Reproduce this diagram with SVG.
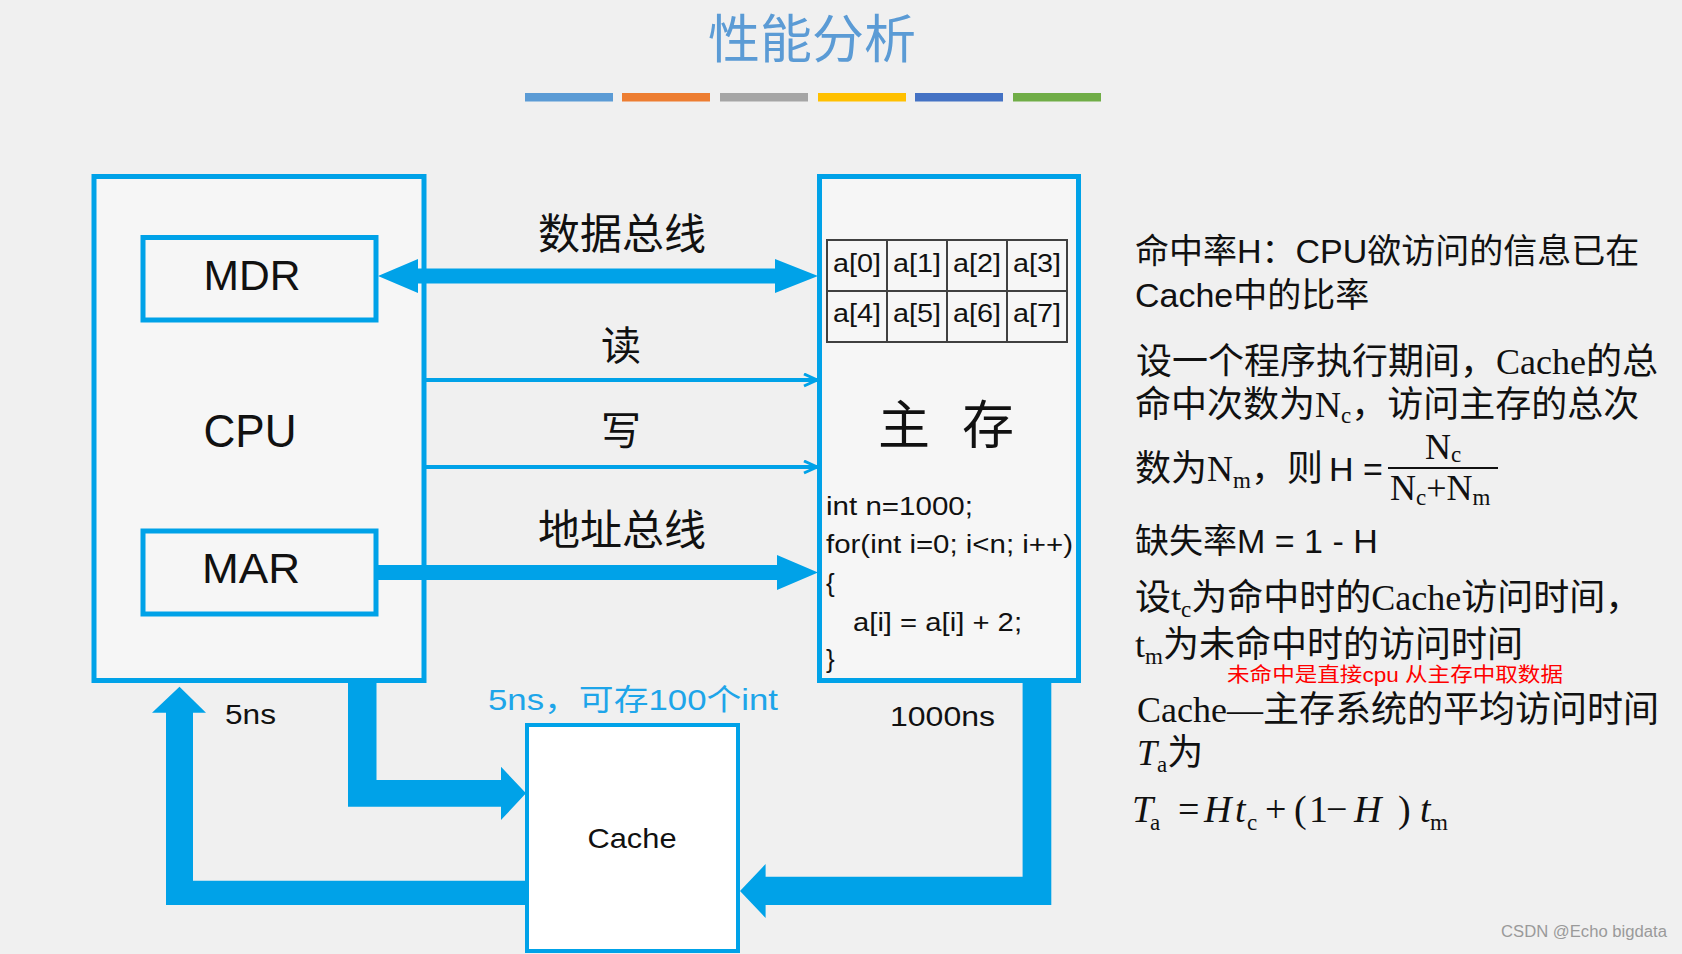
<svg xmlns="http://www.w3.org/2000/svg" width="1682" height="954" viewBox="0 0 1682 954">
<defs>
<style>
.bx{stroke:#00a2e8;stroke-width:5;fill:#f6f6f6}
.ar{fill:#00a2e8}
.thin{stroke:#00a2e8;stroke-width:4;fill:none}
.sans{font-family:"Liberation Sans","Noto Sans CJK SC",sans-serif}
.serif{font-family:"Liberation Serif","Noto Sans CJK SC",serif}
.cjk{font-family:"Noto Sans CJK SC",sans-serif}
.k{fill:#111}
.mid{text-anchor:middle}
.cell{font-family:"Liberation Sans",sans-serif;font-size:25px;fill:#111;text-anchor:middle}
.code{font-family:"Liberation Sans",sans-serif;font-size:26px;fill:#111}
.rs{font-family:"Liberation Sans","Noto Sans CJK SC",sans-serif;font-size:34px;fill:#111}
.rf{font-family:"Liberation Serif","Noto Sans CJK SC",serif;font-size:36px;fill:#111}
.it{font-family:"Liberation Serif",serif;font-style:italic;font-size:38px;fill:#111}
.up{font-family:"Liberation Serif",serif;font-size:38px;fill:#111}
.sub{font-family:"Liberation Serif",serif;font-size:23px;fill:#111}
</style>
<marker id="open" markerUnits="userSpaceOnUse" markerWidth="16" markerHeight="16" refX="14" refY="7" orient="auto">
<path d="M1,1 L14,7 L1,13" fill="none" stroke="#00a2e8" stroke-width="3"/>
</marker>
</defs>
<rect x="0" y="0" width="1682" height="954" fill="#f0f0f0"/>

<g id="title">
<text x="812" y="58" class="cjk mid" font-size="52" fill="#5b9bd5">性能分析</text>
<rect x="525" y="93" width="88" height="8.5" fill="#5b9bd5"/>
<rect x="622" y="93" width="88" height="8.5" fill="#ed7d31"/>
<rect x="720" y="93" width="88" height="8.5" fill="#a5a5a5"/>
<rect x="818" y="93" width="88" height="8.5" fill="#ffc000"/>
<rect x="915" y="93" width="88" height="8.5" fill="#4472c4"/>
<rect x="1013" y="93" width="88" height="8.5" fill="#70ad47"/>
</g>

<g id="cpu">
<rect class="bx" x="94" y="176.5" width="330" height="504"/>
<text x="250" y="447" class="sans k mid" font-size="46" textLength="93" lengthAdjust="spacingAndGlyphs">CPU</text>
</g>
<g id="mdr">
<rect class="bx" x="143" y="237.5" width="233" height="82.5"/>
<text x="252" y="290" class="sans k mid" font-size="42" textLength="97" lengthAdjust="spacingAndGlyphs">MDR</text>
</g>
<g id="mar">
<rect class="bx" x="143" y="531" width="233" height="83"/>
<text x="251" y="583" class="sans k mid" font-size="42" textLength="98" lengthAdjust="spacingAndGlyphs">MAR</text>
</g>

<g id="memory">
<rect class="bx" x="819.5" y="176.5" width="259" height="504"/>
<g stroke="#404040" stroke-width="2" fill="none">
<rect x="827" y="240" width="240" height="102"/>
<path d="M827,291 H1067 M887,240 V342 M947,240 V342 M1007,240 V342"/>
</g>
<text class="cell" x="857" y="272" textLength="48" lengthAdjust="spacingAndGlyphs">a[0]</text>
<text class="cell" x="917" y="272" textLength="48" lengthAdjust="spacingAndGlyphs">a[1]</text>
<text class="cell" x="977" y="272" textLength="48" lengthAdjust="spacingAndGlyphs">a[2]</text>
<text class="cell" x="1037" y="272" textLength="48" lengthAdjust="spacingAndGlyphs">a[3]</text>
<text class="cell" x="857" y="322" textLength="48" lengthAdjust="spacingAndGlyphs">a[4]</text>
<text class="cell" x="917" y="322" textLength="48" lengthAdjust="spacingAndGlyphs">a[5]</text>
<text class="cell" x="977" y="322" textLength="48" lengthAdjust="spacingAndGlyphs">a[6]</text>
<text class="cell" x="1037" y="322" textLength="48" lengthAdjust="spacingAndGlyphs">a[7]</text>
<text class="cjk k" font-size="52" y="444"><tspan x="878">主</tspan><tspan x="962">存</tspan></text>
<text class="code" x="826" y="515" textLength="147" lengthAdjust="spacingAndGlyphs">int n=1000;</text>
<text class="code" x="826" y="553" textLength="247" lengthAdjust="spacingAndGlyphs">for(int i=0; i&lt;n; i++)</text>
<text class="code" x="826" y="592">{</text>
<text class="code" x="853" y="631" textLength="169" lengthAdjust="spacingAndGlyphs">a[i] = a[i] + 2;</text>
<text class="code" x="826" y="668">}</text>
</g>

<g id="cache">
<rect x="527" y="725" width="211" height="226" fill="#ffffff" stroke="#00a2e8" stroke-width="4"/>
<text x="632" y="848" class="sans k mid" font-size="28" textLength="89" lengthAdjust="spacingAndGlyphs">Cache</text>
</g>

<g id="connectors">
<polygon class="ar" points="378,276 418,259 418,268.5 775,268.5 775,259 818,276 775,293 775,283.5 418,283.5 418,293"/>
<line class="thin" x1="424" y1="380" x2="817" y2="380" marker-end="url(#open)"/>
<line class="thin" x1="424" y1="467" x2="817" y2="467" marker-end="url(#open)"/>
<polygon class="ar" points="376,565 777,565 777,555 818,572.5 777,590 777,580 376,580"/>
<polygon class="ar" points="348,683 376.5,683 376.5,780 501,780 501,766.7 526,793.3 501,820 501,806.7 348,806.7"/>
<polygon class="ar" points="166,905 525,905 525,880.7 193,880.7 193,712.7 206,712.7 179.5,686.7 152,712.7 166,712.7"/>
<polygon class="ar" points="1022.6,683 1051.3,683 1051.3,905 765.6,905 765.6,918 740,891 765.6,864 765.6,876.7 1022.6,876.7"/>
</g>

<g id="labels">
<text x="622" y="249" class="cjk k mid" font-size="42">数据总线</text>
<text x="621" y="360" class="cjk k mid" font-size="40">读</text>
<text x="621" y="445" class="cjk k mid" font-size="40">写</text>
<text x="622" y="545" class="cjk k mid" font-size="42">地址总线</text>
<text x="225" y="724" class="sans k" font-size="28" textLength="51" lengthAdjust="spacingAndGlyphs">5ns</text>
<text x="488" y="710" class="sans" font-size="30" fill="#1ea5e9" textLength="290" lengthAdjust="spacingAndGlyphs">5ns，可存100个int</text>
<text x="890" y="726" class="sans k" font-size="28" textLength="105" lengthAdjust="spacingAndGlyphs">1000ns</text>
</g>

<g id="notes">
<text class="rs" x="1135" y="263" font-size="35">命中率H：CPU欲访问的信息已在</text>
<text class="rs" x="1135" y="307">Cache中的比率</text>
<text class="rf" x="1136" y="374">设一个程序执行期间，Cache的总</text>
<text class="rf" x="1135" y="417">命中次数为N<tspan class="sub" dy="6">c</tspan><tspan dy="-6">，访问主存的总次</tspan></text>
<text class="rf" x="1135" y="481">数为N<tspan class="sub" dy="7">m</tspan><tspan dy="-7">，</tspan></text>
<text class="rf" x="1287" y="481">则</text>
<text class="rs" x="1329" y="481">H =</text>
<text class="rf" x="1425" y="459" font-size="31">N<tspan class="sub" font-size="20" dy="3">c</tspan></text>
<line x1="1388" y1="468" x2="1498" y2="468" stroke="#111" stroke-width="2"/>
<text class="rf" x="1390" y="500" font-size="34">N<tspan class="sub" font-size="22" dy="5">c</tspan><tspan dy="-5">+N</tspan><tspan class="sub" font-size="22" dy="5">m</tspan></text>
<text class="rs" x="1135" y="553">缺失率M = 1 - H</text>
<text class="rf" x="1135" y="610">设t<tspan class="sub" dy="7">c</tspan><tspan dy="-7">为命中时的Cache访问时间，</tspan></text>
<text class="rf" x="1135" y="657">t<tspan class="sub" dy="7">m</tspan><tspan dy="-7">为未命中时的访问时间</tspan></text>
<text class="sans" x="1227" y="682" font-size="20" fill="#ff0000" textLength="336" lengthAdjust="spacingAndGlyphs">未命中是直接cpu 从主存中取数据</text>
<text class="rf" x="1137" y="722" font-size="35">Cache—主存系统的平均访问时间</text>
<text class="rf" x="1137" y="765"><tspan font-style="italic" font-size="36">T</tspan><tspan class="sub" dy="7">a</tspan><tspan dy="-7">为</tspan></text>
<text class="it" x="1132" y="822">T</text>
<text class="sub" x="1150" y="830">a</text>
<text class="up" x="1178" y="822">=</text>
<text class="it" x="1204" y="822">H</text>
<text class="it" x="1235" y="822">t</text>
<text class="sub" x="1247" y="830">c</text>
<text class="up" x="1265" y="822">+</text>
<text class="up" x="1294" y="822">(</text>
<text class="up" x="1309" y="822">1</text>
<text class="up" x="1326" y="822">−</text>
<text class="it" x="1354" y="822">H</text>
<text class="up" x="1398" y="822">)</text>
<text class="it" x="1420" y="822">t</text>
<text class="sub" x="1430" y="830">m</text>
</g>

<text x="1501" y="937" class="sans" font-size="16" fill="#9a9a9a" textLength="166" lengthAdjust="spacingAndGlyphs">CSDN @Echo bigdata</text>
</svg>
